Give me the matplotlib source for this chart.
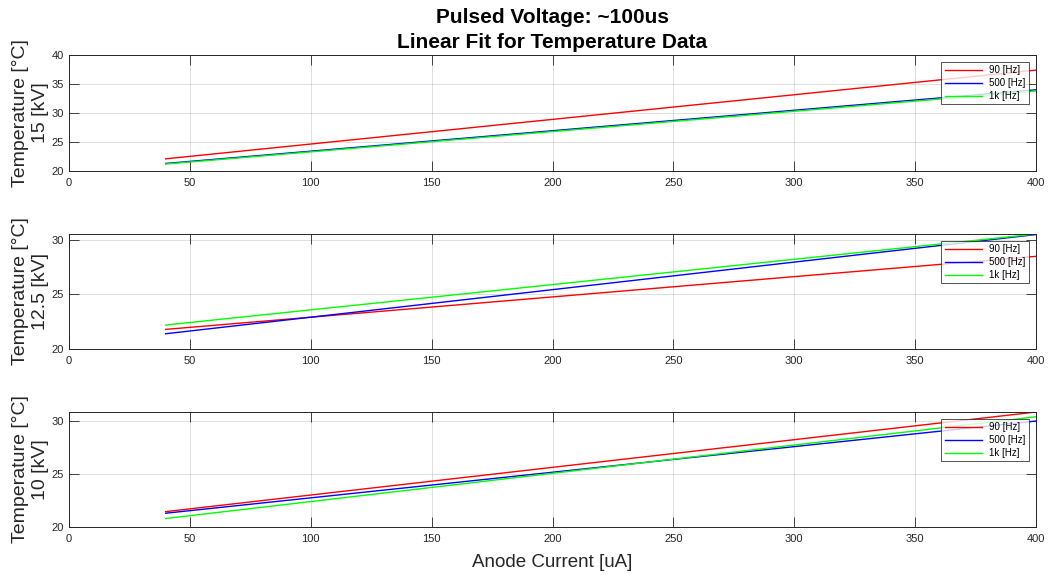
import matplotlib
matplotlib.use("Agg")
import matplotlib.pyplot as plt

plt.rcParams['font.family'] = ['Liberation Sans', 'DejaVu Sans']

x_fit = [40, 400]
series_labels = ["90 [Hz]", "500 [Hz]", "1k [Hz]"]
series_colors = ["#ff0000", "#0000ff", "#00ff00"]
voltages = ["15 [kV]", "12.5 [kV]", "10 [kV]"]

# linear-fit temperatures at x = 40 and x = 400 [uA]
temp_15kv = [[22.1, 37.4], [21.3, 34.0], [21.2, 33.8]]
temp_12p5kv = [[21.8, 28.5], [21.4, 30.5], [22.2, 30.55]]
temp_10kv = [[21.45, 30.85], [21.3, 30.0], [20.8, 30.4]]
all_temps = [temp_15kv, temp_12p5kv, temp_10kv]

ylims = [(20, 40), (20, 30.55), (20, 30.85)]
yticks = [[20, 25, 30, 35, 40], [20, 25, 30], [20, 25, 30]]
xticks = [0, 50, 100, 150, 200, 250, 300, 350, 400]

fig = plt.figure(figsize=(10.48, 5.75), dpi=100)
left, right = 69/1048, 1036/1048
tops = [55, 234, 412]
bottoms = [171, 349, 527]
axc = (0.15, 0.15, 0.15)

for i in range(3):
    b = 1 - bottoms[i]/575
    t = 1 - tops[i]/575
    ax = fig.add_axes([left, b, right-left, t-b])
    for lab, col, ys in zip(series_labels, series_colors, all_temps[i]):
        ax.plot(x_fit, ys, color=col, lw=1.0, label=lab)
    ax.set_xlim(0, 400)
    ax.set_ylim(*ylims[i])
    ax.set_xticks(xticks)
    ax.set_yticks(yticks[i])
    ax.grid(True, color=(0.15, 0.15, 0.15), alpha=0.15, lw=0.7)
    ax.tick_params(direction='in', top=True, right=True, labelsize=8,
                   colors=axc, length=7, width=0.6)
    ax.tick_params(axis='x', pad=5)
    ax.tick_params(axis='y', pad=3.5)
    for s in ax.spines.values():
        s.set_color(axc)
        s.set_linewidth(0.7)
    ax.set_ylabel("Temperature [°C]\n" + voltages[i], fontsize=14,
                  color=axc, linespacing=1.25, labelpad=2)
    leg = ax.legend(loc='upper right', fontsize=7, frameon=True, fancybox=False,
                    handlelength=3.8, borderaxespad=0.7, handletextpad=0.8,
                    labelspacing=0.3, borderpad=0.35)
    leg.get_frame().set_edgecolor((0.15, 0.15, 0.15))
    leg.get_frame().set_linewidth(0.7)
    if i == 0:
        ax.set_title("Pulsed Voltage: ~100us\nLinear Fit for Temperature Data",
                     fontsize=15, fontweight='bold', color='black', pad=5,
                     linespacing=1.4)
    if i == 2:
        ax.set_xlabel("Anode Current [uA]", fontsize=13.5, color=axc, labelpad=7)

fig.savefig("out.png", dpi=100)
